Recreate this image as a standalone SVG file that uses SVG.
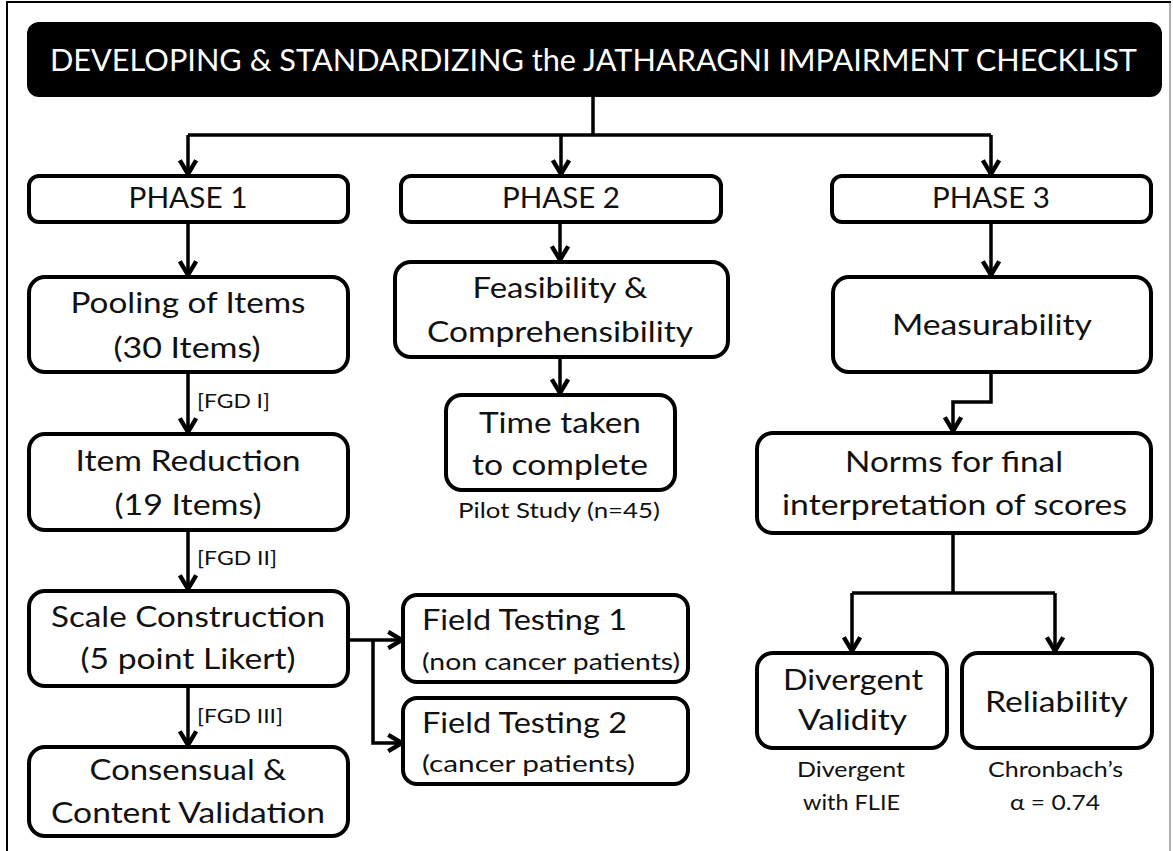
<svg xmlns="http://www.w3.org/2000/svg" width="1173" height="851" viewBox="0 0 1173 851">
<defs>
<marker id="ah" markerUnits="userSpaceOnUse" markerWidth="20" markerHeight="20" refX="12" refY="8" orient="auto" viewBox="0 0 16 16">
<path d="M1,1.5 L12,8 L1,14.5" fill="none" stroke="#000" stroke-width="3.5"/>
</marker>
<style>
.box{fill:#fff;stroke:#000;stroke-width:4}
.t{font-family:Lato,"Open Sans",sans-serif;font-size:28px;fill:#111;text-anchor:middle}
.s{font-family:Lato,"Open Sans",sans-serif;font-size:21px;fill:#111;text-anchor:middle}
.f{font-family:Lato,"Open Sans",sans-serif;font-size:23px;fill:#111}
.l{font-family:Lato,"Open Sans",sans-serif;font-size:19px;fill:#111}
.c{fill:none;stroke:#000;stroke-width:3.5}
.a{marker-end:url(#ah)}
</style>
</defs>
<rect width="1173" height="851" fill="#fff"/>
<path d="M7,851 L7,2 L1171,2" fill="none" stroke="#000" stroke-width="2"/>
<path d="M1170,3 L1170,851" fill="none" stroke="#999" stroke-width="1.5"/>

<g id="connectors">
<path class="c" d="M593,97 L593,135 M188,135 L991,135"/>
<path class="c a" d="M188,135 L188,174"/>
<path class="c a" d="M561,135 L561,174"/>
<path class="c a" d="M991,135 L991,174"/>
<path class="c a" d="M188,222 L188,275"/>
<path class="c a" d="M188,372 L188,432"/>
<path class="c a" d="M188,530 L188,589"/>
<path class="c a" d="M188,686 L188,745"/>
<path class="c a" d="M560,222 L560,260"/>
<path class="c a" d="M560,357 L560,393"/>
<path class="c a" d="M991,222 L991,275"/>
<path class="c a" d="M991,372 L991,402 L953,402 L953,431"/>
<path class="c" d="M953,533 L953,593 M852,593 L1055,593"/>
<path class="c a" d="M852,593 L852,651"/>
<path class="c a" d="M1055,593 L1055,651"/>
<path class="c" d="M348,640 L373,640" stroke-width="6"/>
<path class="c a" d="M373,640 L402,640"/>
<path class="c a" d="M373,640 L373,743 L402,743" stroke-width="4.5"/>
</g>

<g id="title">
<rect x="27" y="22" width="1135" height="75" rx="12" fill="#000"/>
<text x="593.5" y="71" font-family="Lato,'Open Sans',sans-serif" font-size="31" fill="#fff" text-anchor="middle" textLength="1087" lengthAdjust="spacingAndGlyphs">DEVELOPING &amp; STANDARDIZING the JATHARAGNI IMPAIRMENT CHECKLIST</text>
</g>

<g id="phase1"><rect class="box" x="29" y="176" width="319" height="46" rx="10"/><text class="t" x="188" y="208" textLength="119" lengthAdjust="spacingAndGlyphs">PHASE 1</text></g>
<g id="phase2"><rect class="box" x="401" y="176" width="320" height="46" rx="10"/><text class="t" x="561" y="208" textLength="118" lengthAdjust="spacingAndGlyphs">PHASE 2</text></g>
<g id="phase3"><rect class="box" x="832" y="176" width="319" height="46" rx="10"/><text class="t" x="991" y="208" textLength="118" lengthAdjust="spacingAndGlyphs">PHASE 3</text></g>

<g id="pooling"><rect class="box" x="29" y="277" width="319" height="95" rx="16"/><text class="t" x="188" y="313" textLength="235" lengthAdjust="spacingAndGlyphs">Pooling of Items</text><text class="t" x="187" y="358" textLength="147" lengthAdjust="spacingAndGlyphs">(30 Items)</text></g>
<g id="reduction"><rect class="box" x="29" y="434" width="319" height="96" rx="16"/><text class="t" x="188" y="471" textLength="225" lengthAdjust="spacingAndGlyphs">Item Reduction</text><text class="t" x="188" y="515" textLength="147" lengthAdjust="spacingAndGlyphs">(19 Items)</text></g>
<g id="scale"><rect class="box" x="29" y="591" width="319" height="95" rx="16"/><text class="t" x="188" y="627" textLength="274" lengthAdjust="spacingAndGlyphs">Scale Construction</text><text class="t" x="188" y="669" textLength="215" lengthAdjust="spacingAndGlyphs">(5 point Likert)</text></g>
<g id="consensual"><rect class="box" x="29" y="747" width="319" height="89" rx="16"/><text class="t" x="188" y="780" textLength="197" lengthAdjust="spacingAndGlyphs">Consensual &amp;</text><text class="t" x="188" y="823" textLength="274" lengthAdjust="spacingAndGlyphs">Content Validation</text></g>

<text class="l" x="197" y="408" textLength="73" lengthAdjust="spacingAndGlyphs">[FGD I]</text>
<text class="l" x="197" y="565" textLength="80" lengthAdjust="spacingAndGlyphs">[FGD II]</text>
<text class="l" x="197" y="723" textLength="86" lengthAdjust="spacingAndGlyphs">[FGD III]</text>

<g id="feasibility"><rect class="box" x="395" y="262" width="333" height="95" rx="16"/><text class="t" x="560" y="298" textLength="175" lengthAdjust="spacingAndGlyphs">Feasibility &amp;</text><text class="t" x="560" y="342" textLength="266" lengthAdjust="spacingAndGlyphs">Comprehensibility</text></g>
<g id="time"><rect class="box" x="446" y="395" width="229" height="95" rx="16"/><text class="t" x="560" y="433" textLength="162" lengthAdjust="spacingAndGlyphs">Time taken</text><text class="t" x="560" y="475" textLength="176" lengthAdjust="spacingAndGlyphs">to complete</text></g>
<text class="s" x="559" y="518" textLength="202" lengthAdjust="spacingAndGlyphs">Pilot Study (n=45)</text>

<g id="field1"><rect class="box" x="403" y="595" width="285" height="87" rx="14"/><text class="t" x="422" y="630" text-anchor="start" style="text-anchor:start" textLength="205" lengthAdjust="spacingAndGlyphs">Field Testing 1</text><text class="f" x="422" y="670" textLength="258" lengthAdjust="spacingAndGlyphs">(non cancer patients)</text></g>
<g id="field2"><rect class="box" x="403" y="698" width="285" height="86" rx="14"/><text class="t" x="422" y="733" style="text-anchor:start" textLength="205" lengthAdjust="spacingAndGlyphs">Field Testing 2</text><text class="f" x="422" y="772" textLength="213" lengthAdjust="spacingAndGlyphs">(cancer patients)</text></g>

<g id="measurability"><rect class="box" x="833" y="277" width="318" height="95" rx="16"/><text class="t" x="992" y="335" textLength="200" lengthAdjust="spacingAndGlyphs">Measurability</text></g>
<g id="norms"><rect class="box" x="757" y="433" width="394" height="100" rx="16"/><text class="t" x="954" y="472" textLength="218" lengthAdjust="spacingAndGlyphs">Norms for final</text><text class="t" x="954.5" y="515" textLength="345" lengthAdjust="spacingAndGlyphs">interpretation of scores</text></g>
<g id="divergent"><rect class="box" x="757" y="653" width="190" height="95" rx="16"/><text class="t" x="853" y="690" textLength="140" lengthAdjust="spacingAndGlyphs">Divergent</text><text class="t" x="852.5" y="730" textLength="109" lengthAdjust="spacingAndGlyphs">Validity</text></g>
<g id="reliability"><rect class="box" x="962" y="653" width="190" height="95" rx="16"/><text class="t" x="1056.5" y="712" textLength="143" lengthAdjust="spacingAndGlyphs">Reliability</text></g>
<text class="s" x="851" y="777" textLength="108" lengthAdjust="spacingAndGlyphs">Divergent</text><text class="s" x="851.5" y="810" textLength="97" lengthAdjust="spacingAndGlyphs">with FLIE</text>
<text class="s" x="1055.5" y="777" textLength="135" lengthAdjust="spacingAndGlyphs">Chronbach’s</text><text class="s" x="1055" y="810" textLength="90" lengthAdjust="spacingAndGlyphs">α = 0.74</text>
</svg>
